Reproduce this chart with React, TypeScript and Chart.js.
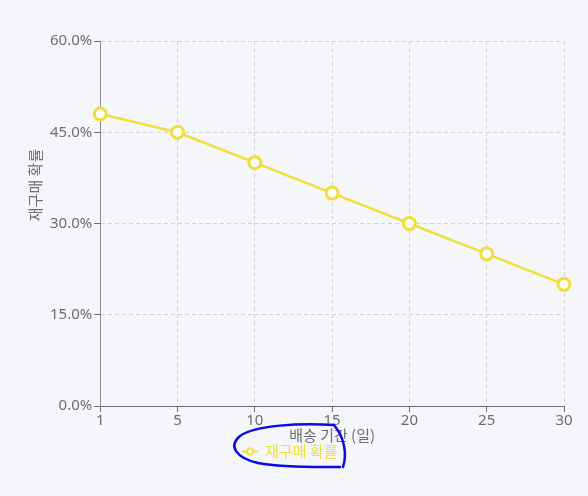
import React, { useEffect, useRef } from "react";
import { Chart, registerables } from "chart.js";

Chart.register(...registerables);

const categories = ["1", "5", "10", "15", "20", "25", "30"];
const repurchaseProb = [48, 45, 40, 35, 30, 25, 20];
const seriesName = "재구매 확률";
const xTitle = "배송 기간 (일)";
const yTitle = "재구매 확률";

const YELLOW = "#f0df3a";
const GRAY = "#6e6e6e";
const FONT = "'Noto Sans', 'Noto Sans CJK KR', sans-serif";
const CJK = "'Noto Sans CJK KR', sans-serif";

function legendMarker(): HTMLCanvasElement {
  const c = document.createElement("canvas");
  c.width = 16;
  c.height = 10;
  const ctx = c.getContext("2d")!;
  ctx.strokeStyle = YELLOW;
  ctx.lineWidth = 2;
  ctx.beginPath();
  ctx.moveTo(0, 5);
  ctx.lineTo(16, 5);
  ctx.stroke();
  ctx.beginPath();
  ctx.arc(8, 5, 3, 0, Math.PI * 2);
  ctx.fillStyle = "#ffffff";
  ctx.fill();
  ctx.stroke();
  return c;
}

const yTitlePlugin = {
  id: "yTitle",
  afterDraw(chart: any) {
    const ctx = chart.ctx;
    ctx.save();
    ctx.translate(35, 185);
    ctx.rotate(-Math.PI / 2);
    ctx.font = `15px ${CJK}`;
    ctx.fillStyle = GRAY;
    ctx.textAlign = "center";
    ctx.textBaseline = "middle";
    ctx.fillText(yTitle, 0, 0);
    ctx.restore();
  },
};

const scribble = {
  id: "scribble",
  afterDraw(chart: any) {
    const ctx = chart.ctx;
    ctx.save();
    ctx.strokeStyle = "#0a0ae6";
    ctx.lineWidth = 2.5;
    ctx.lineCap = "round";
    ctx.beginPath();
    ctx.moveTo(343, 467);
    ctx.bezierCurveTo(347, 455, 345, 438, 334, 425);
    ctx.bezierCurveTo(300, 423, 255, 425, 240, 436);
    ctx.bezierCurveTo(228, 446, 236, 458, 258, 463);
    ctx.bezierCurveTo(285, 468, 320, 467, 340, 467);
    ctx.stroke();
    ctx.restore();
  },
};

export default function App() {
  const ref = useRef<HTMLCanvasElement>(null);
  useEffect(() => {
    document.body.style.margin = "0";
    document.body.style.background = "#f5f6fa";
    const marker = legendMarker();
    const chart = new Chart(ref.current!, {
      type: "line",
      data: {
        labels: categories,
        datasets: [
          {
            label: seriesName,
            data: repurchaseProb,
            borderColor: YELLOW,
            backgroundColor: "#ffffff",
            borderWidth: 2.5,
            pointRadius: 6,
            pointBorderWidth: 3,
            pointBackgroundColor: "#ffffff",
            pointBorderColor: YELLOW,
            tension: 0,
          },
        ],
      },
      options: {
        animation: false,
        responsive: false,
        layout: { padding: { left: 16, right: 24, top: 41, bottom: 27 } },
        plugins: {
          tooltip: { enabled: false },
          legend: {
            position: "bottom",
            labels: {
              usePointStyle: true,
              color: YELLOW,
              font: { family: CJK, size: 15 },
              padding: 0,
              generateLabels: (ch: any) =>
                ch.data.datasets.map((d: any, i: number) => ({
                  text: d.label,
                  fontColor: YELLOW,
                  pointStyle: marker,
                  strokeStyle: YELLOW,
                  fillStyle: YELLOW,
                  lineWidth: 0,
                  datasetIndex: i,
                  hidden: false,
                })),
            },
          },
        },
        scales: {
          x: {
            type: "category",
            offset: false,
            grid: {
              color: "#d2d3d8",
              tickColor: GRAY,
              tickLength: 6,
              tickBorderDash: [],
            },
            border: { color: GRAY, width: 1, dash: [4, 3] },
            ticks: { color: GRAY, font: { family: FONT, size: 15 }, padding: 0, maxRotation: 0 },
            title: {
              display: true,
              text: xTitle,
              color: GRAY,
              font: { family: CJK, size: 15 },
              padding: { top: -4, bottom: 0 },
            },
          },
          y: {
            min: 0,
            max: 60,
            afterFit: (scale: any) => {
              scale.width += 32;
            },
            grid: { color: "#d2d3d8", tickColor: GRAY, tickLength: 6, tickBorderDash: [] },
            border: { color: "#8a8a8a", width: 1, dash: [4, 3] },
            ticks: {
              stepSize: 15,
              color: GRAY,
              font: { family: FONT, size: 15 },
              padding: 2,
              callback: (v: any) => Number(v).toFixed(1) + "%",
            },
            title: { display: false },
          },
        },
      },
      plugins: [yTitlePlugin, scribble],
    });
    return () => chart.destroy();
  }, []);
  return <canvas ref={ref} width={588} height={496} style={{ display: "block" }} />;
}
